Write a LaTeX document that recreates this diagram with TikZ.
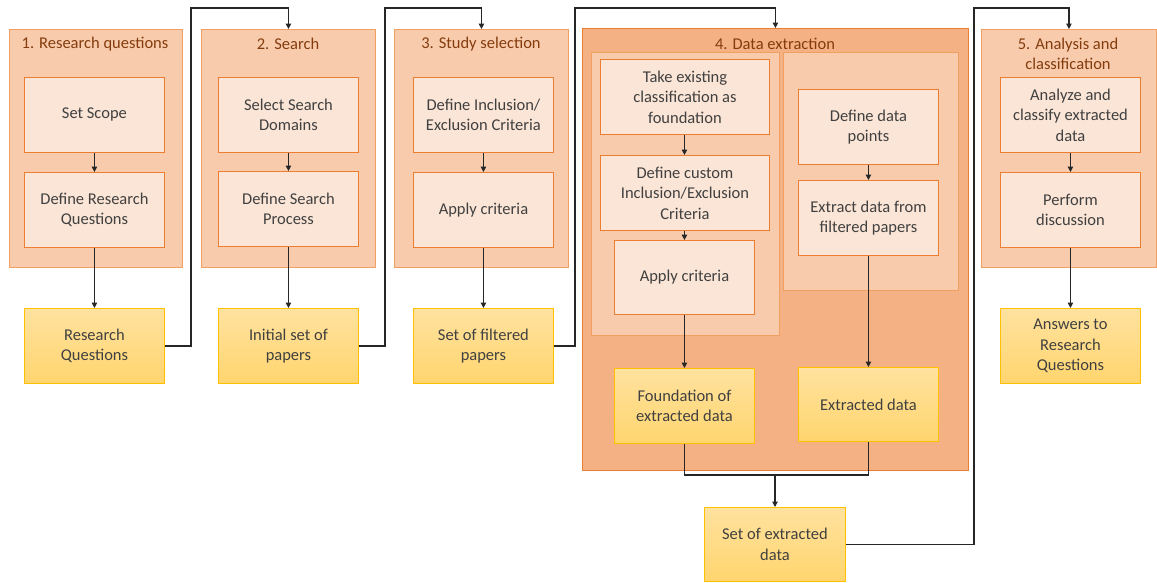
\documentclass[tikz,border=0pt]{standalone}
\usepackage{fontspec}
\setmainfont{Carlito}
\usetikzlibrary{arrows.meta}
\definecolor{contfill}{HTML}{F8CBAD}
\definecolor{contdraw}{HTML}{F2A061}
\definecolor{bigfill}{HTML}{F4B183}
\definecolor{boxfill}{HTML}{FBE5D6}
\definecolor{boxdraw}{HTML}{ED7D31}
\definecolor{outtop}{HTML}{FFE29F}
\definecolor{outbot}{HTML}{FFD56E}
\definecolor{outdraw}{HTML}{FFC000}
\definecolor{ttl}{HTML}{843C0C}
\definecolor{txt}{HTML}{404040}
\newcommand\bodyfont{\fontsize{16.5}{20.5}\selectfont}
\tikzset{
  cont/.style={draw=contdraw, fill=contfill, line width=0.9pt, inner sep=0pt, anchor=north west},
  bigcont/.style={cont, fill=bigfill, draw=boxdraw},
  stepbox/.style={draw=boxdraw, fill=boxfill, line width=0.9pt, text=txt, align=center,
    font=\bodyfont, inner sep=2pt, anchor=north west, minimum width=140pt, minimum height=75pt},
  outbox/.style={stepbox, draw=outdraw, top color=outtop, bottom color=outbot},
  ttlnode/.style={text=ttl, font=\bodyfont, align=center},
  line/.style={draw=black!85, line width=1.1pt},
  conn/.style={line, -{Triangle[length=5.5pt,width=5.5pt]}}
}
\begin{document}
\begin{tikzpicture}[x=1pt,y=-1pt]
\useasboundingbox (0,0) rectangle (1157,582);
% containers
\node[cont, minimum width=173pt, minimum height=238pt] (c1) at (9,29) {};
\node[cont, minimum width=174pt, minimum height=238pt] (c2) at (201,29) {};
\node[cont, minimum width=174pt, minimum height=238pt] (c3) at (394,29) {};
\node[bigcont, minimum width=386pt, minimum height=442pt] (c4) at (582,28) {};
\node[cont, minimum width=175pt, minimum height=238pt] (c5) at (981,29) {};
\node[cont, minimum width=188pt, minimum height=283pt] (c4a) at (591,52) {};
\node[cont, minimum width=175pt, minimum height=238pt] (c4b) at (783,52) {};
% titles
\node[ttlnode] (t1) at (95,44) {1. Research questions};
\node[ttlnode] (t2) at (288,44) {2. Search};
\node[ttlnode] (t3) at (481,44) {3. Study selection};
\node[ttlnode] (t4) at (775,44) {4. Data extraction};
\node[ttlnode] (t5) at (1068,54) {5. Analysis and\\classification};
% stage 1
\node[stepbox] (s1a) at (24,77) {Set Scope};
\node[stepbox] (s1b) at (24,172) {Define Research\\Questions};
\node[outbox] (o1) at (24,308) {Research\\Questions};
% stage 2
\node[stepbox] (s2a) at (218,77) {Select Search\\Domains};
\node[stepbox] (s2b) at (218,171) {Define Search\\Process};
\node[outbox] (o2) at (218,308) {Initial set of\\papers};
% stage 3
\node[stepbox] (s3a) at (413,77) {Define Inclusion/\\Exclusion Criteria};
\node[stepbox] (s3b) at (413,172) {Apply criteria};
\node[outbox] (o3) at (413,308) {Set of filtered\\papers};
% stage 4
\node[stepbox, minimum width=169pt] (s4a) at (600,59) {Take existing\\classification as\\foundation};
\node[stepbox, minimum width=169pt] (s4b) at (600,155) {Define custom\\Inclusion/Exclusion\\Criteria};
\node[stepbox, minimum height=74pt] (s4c) at (614,240) {Apply criteria};
\node[stepbox] (s4d) at (798,89) {Define data\\points};
\node[stepbox] (s4e) at (798,180) {Extract data from\\filtered papers};
\node[outbox] (o4a) at (614,368) {Foundation of\\extracted data};
\node[outbox, minimum height=74pt] (o4b) at (798,367) {Extracted data};
\node[outbox, minimum width=141pt, minimum height=74pt] (o6) at (704,507) {Set of extracted\\data};
% stage 5
\node[stepbox] (s5a) at (1000,77) {Analyze and\\classify extracted\\data};
\node[stepbox] (s5b) at (1000,172) {Perform\\discussion};
\node[outbox] (o5) at (1000,308) {Answers to\\Research\\Questions};
% inner connectors
\draw[conn] (s1a) -- (s1b);
\draw[conn] (s1b) -- (o1);
\draw[conn] (s2a) -- (s2b);
\draw[conn] (s2b) -- (o2);
\draw[conn] (s3a) -- (s3b);
\draw[conn] (s3b) -- (o3);
\draw[conn] (s4a.south -| s4c.north) -- (s4b.north -| s4c.north);
\draw[conn] (s4b.south -| s4c.north) -- (s4c.north);
\draw[conn] (s4c) -- (o4a);
\draw[conn] (s4d) -- (s4e);
\draw[conn] (s4e) -- (o4b);
\draw[conn] (s5a) -- (s5b);
\draw[conn] (s5b) -- (o5);
% merge
\coordinate (m) at (775,475);
\draw[line] (o4a.south) |- (m);
\draw[line] (o4b.south) |- (m);
\draw[conn] (m) -- (o6.north -| m);
% long connectors
\coordinate (k1) at (191,8);
\coordinate (k2) at (385,8);
\coordinate (k3) at (575,8);
\coordinate (k4) at (974,8);
\draw[conn] (o1.east) -| (k1) -| (c2.north);
\draw[conn] (o2.east) -| (k2) -| (c3.north);
\draw[conn] (o3.east) -| (k3) -| (c4.north);
\draw[conn] (o6.east) -| (k4) -| (c5.north);
\end{tikzpicture}
\end{document}
